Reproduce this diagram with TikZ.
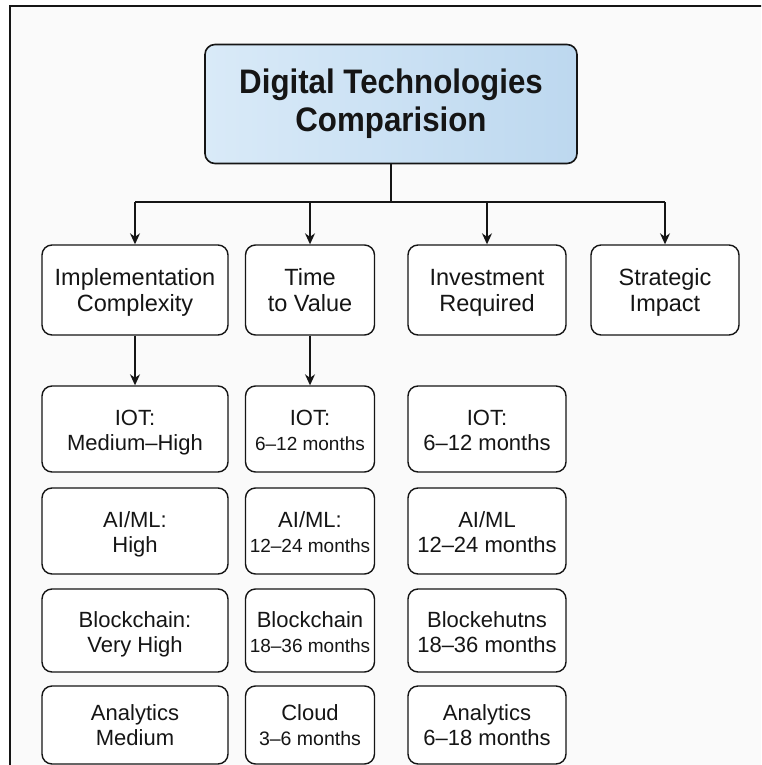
\documentclass[tikz,border=0pt]{standalone}
\usepackage{fontspec}
\setmainfont{Liberation Sans}
\newfontfamily\titlefont[FakeStretch=0.92]{Liberation Sans}
\usetikzlibrary{arrows.meta}
\definecolor{bgc}{HTML}{FAFAFA}
\definecolor{ink}{HTML}{151515}
\definecolor{blueL}{HTML}{D9EAF8}
\definecolor{blueR}{HTML}{BDD8EF}
\newcommand{\topst}[1]{\rule{0pt}{#1}}
\begin{document}
\begin{tikzpicture}[x=1pt,y=-1pt,
  box/.style={draw=ink,line width=1.4pt,rounded corners=10pt,fill=white,inner sep=0pt,
    align=center,text=ink,font=\fontsize{22}{25}\selectfont},
  hdr/.style={box,minimum height=90pt,font=\fontsize{23.5}{26}\selectfont},
  cell/.style={box},
  arr/.style={draw=ink,line width=1.5pt,-{Stealth[length=11pt,width=10pt]}},
  ln/.style={draw=ink,line width=1.5pt}]
\clip (0,0) rectangle (761,765);
\fill[white] (0,0) rectangle (761,765);
\fill[bgc] (10,6) rectangle (761,765);
\draw[ink,line width=2.5pt] (10,800) -- (10,6) -- (800,6);

\node[box,minimum width=372pt,minimum height=119pt,left color=blueL,right color=blueR,
  line width=1.6pt,font=\titlefont\fontsize{34}{38}\selectfont\bfseries] (title) at (391,104)
  {Digital Technologies\\Comparision};

\node[hdr,minimum width=186pt] (h1) at (135,290) {\topst{24pt}Implementation\\Complexity\strut};
\node[hdr,minimum width=129pt] (h2) at (310,290) {\topst{24pt}Time\\to Value\strut};
\node[hdr,minimum width=158pt] (h3) at (487,290) {\topst{24pt}Investment\\Required\strut};
\node[hdr,minimum width=148pt] (h4) at (665,290) {\topst{24pt}Strategic\\Impact\strut};

\coordinate (j) at (391,202);
\draw[ln] (title.south) -- (j);
\draw[ln] (h1.north |- j) -- (h4.north |- j);
\foreach \h in {h1,h2,h3,h4}{\draw[arr] (\h.north |- j) -- (\h.north);}

% column 1
\node[cell,minimum width=186pt,minimum height=86pt] (a1) at (135,429) {\topst{26pt}IOT:\\Medium–High\strut};
\node[cell,minimum width=186pt,minimum height=86pt] (a2) at (135,531) {\topst{26pt}AI/ML:\\High\strut};
\node[cell,minimum width=186pt,minimum height=83pt] (a3) at (135,630.5) {\topst{26pt}Blockchain:\\Very High\strut};
\node[cell,minimum width=186pt,minimum height=78pt] (a4) at (135,725) {\topst{24pt}Analytics\\Medium\strut};
% column 2
\node[cell,minimum width=129pt,minimum height=86pt] (b1) at (310,429) {\topst{26pt}IOT:\\{\fontsize{19}{25}\selectfont 6–12 months\strut}};
\node[cell,minimum width=129pt,minimum height=86pt] (b2) at (310,531) {\topst{26pt}AI/ML:\\{\fontsize{19}{25}\selectfont 12–24 months\strut}};
\node[cell,minimum width=129pt,minimum height=83pt] (b3) at (310,630.5) {\topst{26pt}Blockchain\\{\fontsize{19}{25}\selectfont 18–36 months\strut}};
\node[cell,minimum width=129pt,minimum height=78pt] (b4) at (310,725) {\topst{24pt}Cloud\\{\fontsize{19.5}{25}\selectfont 3–6 months\strut}};
% column 3
\node[cell,minimum width=158pt,minimum height=86pt] (c1) at (487,429) {\topst{26pt}IOT:\\6–12 months\strut};
\node[cell,minimum width=158pt,minimum height=86pt] (c2) at (487,531) {\topst{26pt}AI/ML\\12–24 months\strut};
\node[cell,minimum width=158pt,minimum height=83pt] (c3) at (487,630.5) {\topst{26pt}Blockehutns\\18–36 months\strut};
\node[cell,minimum width=158pt,minimum height=78pt] (c4) at (487,725) {\topst{24pt}Analytics\\6–18 months\strut};

\draw[arr] (h1.south) -- (a1.north);
\draw[arr] (h2.south) -- (b1.north);
\end{tikzpicture}
\end{document}
